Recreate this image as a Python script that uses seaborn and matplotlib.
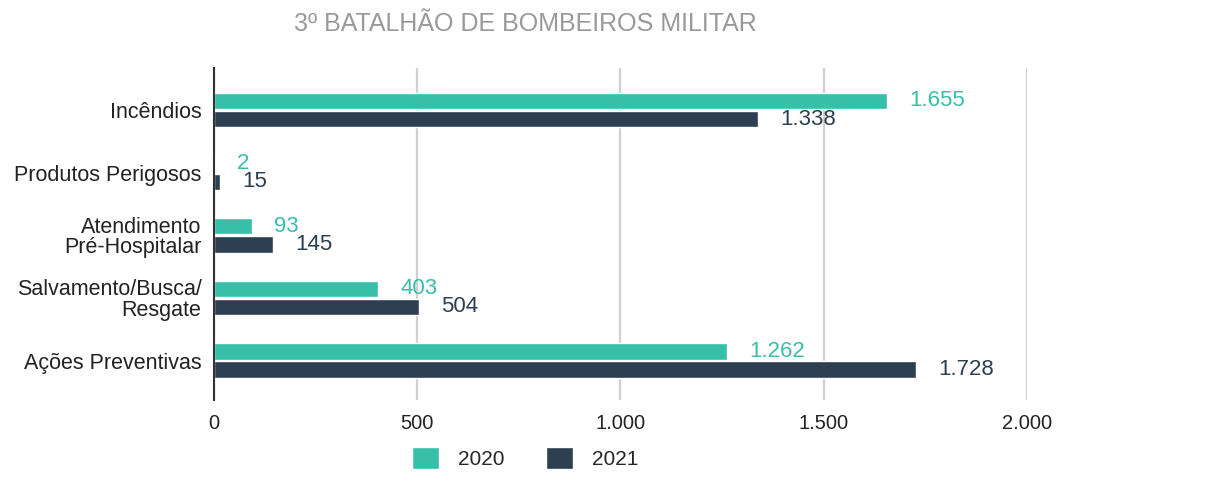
import pandas as pd
import seaborn as sns
import matplotlib.pyplot as plt

categorias = ["Incêndios", "Produtos Perigosos", "Atendimento\nPré-Hospitalar",
              "Salvamento/Busca/\nResgate", "Ações Preventivas"]
anos = ["2020", "2021"]
valores_2020 = [1655, 2, 93, 403, 1262]
valores_2021 = [1338, 15, 145, 504, 1728]
cores = ["#37bfa7", "#2c3e50"]


def fmt(v):
    return f"{v:,}".replace(",", ".")


df = pd.DataFrame({
    "categoria": categorias * 2,
    "ano": [anos[0]] * len(categorias) + [anos[1]] * len(categorias),
    "valor": valores_2020 + valores_2021,
})

sns.set_theme(style="white")
plt.rcParams["font.family"] = ["Liberation Sans", "DejaVu Sans"]

fig = plt.figure(figsize=(12.23, 4.86), dpi=100)
ax = fig.add_axes([0.175, 0.177, 0.6647, 0.683])

sns.barplot(data=df, y="categoria", x="valor", hue="ano", palette=cores,
            orient="h", width=0.58, gap=0.1, ax=ax, legend=True, saturation=1)

for cont, cor in zip(ax.containers, cores):
    ax.bar_label(cont, labels=[fmt(int(v)) for v in cont.datavalues],
                 padding=16, color=cor, fontsize=16)

ax.set_xlim(0, 2000)
ax.set_ylim(4.63, -0.67)
ax.set_xticks([0, 500, 1000, 1500, 2000])
ax.set_xticklabels([fmt(t) for t in [0, 500, 1000, 1500, 2000]], fontsize=14.5, color="#222222")
ax.tick_params(axis="y", labelsize=15.5, colors="#222222", length=0, pad=9)
ax.tick_params(axis="x", length=0, pad=10)
for lbl in ax.get_yticklabels():
    lbl.set_linespacing(0.95)
ax.set_xlabel("")
ax.set_ylabel("")
ax.xaxis.grid(True, color="#d0d0d0", linewidth=1.6)
ax.set_axisbelow(True)
for s in ["top", "right", "bottom"]:
    ax.spines[s].set_visible(False)
ax.spines["left"].set_color("#333333")
ax.spines["left"].set_linewidth(1.5)

handles, labels = ax.get_legend_handles_labels()
ax.legend_.remove()
fig.legend(handles, labels, loc="center", bbox_to_anchor=(525 / 1223, 1 - 458 / 486),
           ncol=2, frameon=False, fontsize=15, handlelength=1.3, handleheight=1.3,
           columnspacing=2.0, handletextpad=0.9)

fig.text(525 / 1223, 1 - 24 / 486, "3º BATALHÃO DE BOMBEIROS MILITAR",
         ha="center", va="center", fontsize=18, color="#999999")

fig.savefig("out.png", dpi=100)
